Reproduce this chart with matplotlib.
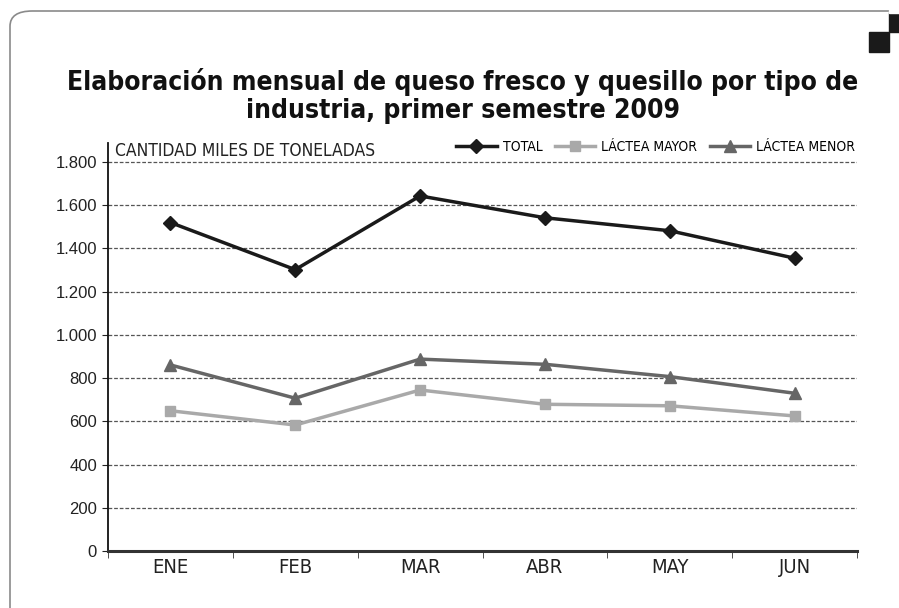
import matplotlib
matplotlib.use("Agg")
import matplotlib.pyplot as plt
from matplotlib.patches import FancyBboxPatch, Rectangle
from matplotlib import font_manager

months = ["ENE", "FEB", "MAR", "ABR", "MAY", "JUN"]
total = [1520, 1302, 1643, 1542, 1482, 1355]
lactea_mayor = [649, 583, 745, 679, 672, 625]
lactea_menor = [861, 707, 888, 864, 807, 730]
y_ticks = [0, 200, 400, 600, 800, 1000, 1200, 1400, 1600, 1800]
y_tick_labels = ["0", "200", "400", "600", "800", "1.000", "1.200", "1.400", "1.600", "1.800"]

title = "Elaboración mensual de queso fresco y quesillo por tipo de\nindustria, primer semestre 2009"
unit_label = "CANTIDAD MILES DE TONELADAS"

# look for a condensed / narrow face, otherwise fall back to plain Liberation Sans
fonts = font_manager.fontManager.ttflist
cond = [f for f in fonts
        if f.stretch in ("condensed", "semi-condensed", "extra-condensed")
        or "Narrow" in f.name or "Condensed" in f.name]
if cond:
    narrow = {"family": cond[0].name, "stretch": cond[0].stretch}
    scale = 1.0
else:
    narrow = {"family": "Liberation Sans", "stretch": "normal"}
    scale = 0.8
regular = "Liberation Sans"

W, H = 899, 608
fig = plt.figure(figsize=(W / 100, H / 100), dpi=100)

# frame (left + top rounded border) and corner squares
frame = FancyBboxPatch((10 / W, -40 / H), 1.2, (H + 40 - 11) / H,
                       boxstyle="round,pad=0,rounding_size=0.025",
                       transform=fig.transFigure, fill=False,
                       edgecolor="#8a8a8a", linewidth=1.2)
fig.patches.append(frame)
fig.patches.append(Rectangle((889 / W, (H - 32) / H), 10 / W, 20 / H,
                             transform=fig.transFigure, color="#1a1a1a"))
fig.patches.append(Rectangle((869 / W, (H - 52) / H), 20 / W, 20 / H,
                             transform=fig.transFigure, color="#1a1a1a"))
fig.patches.append(Rectangle((889 / W, (H - 13) / H), 10 / W, 3 / H,
                             transform=fig.transFigure, color="white"))

fig.text(463 / W, (H - 96) / H, title, ha="center", va="center",
         family=narrow["family"], fontstretch=narrow["stretch"],
         fontweight="bold", fontsize=19 * scale, linespacing=1.05,
         color="#111111")

ax = fig.add_axes([108 / W, 57 / H, 749 / W, 408 / H])
x = range(len(months))
ax.plot(x, total, color="#1a1a1a", lw=2.5, marker="D", ms=7, label="TOTAL")
ax.plot(x, lactea_mayor, color="#a9a9a9", lw=2.5, marker="s", ms=7.5, label="LÁCTEA MAYOR")
ax.plot(x, lactea_menor, color="#666666", lw=2.5, marker="^", ms=8.5, label="LÁCTEA MENOR")

ax.set_xlim(-0.5, len(months) - 0.5)
ax.set_ylim(0, 1888)
ax.set_yticks(y_ticks)
ax.set_yticklabels(y_tick_labels, family=regular, fontsize=12, color="#222222")
ax.set_xticks(list(x))
ax.set_xticklabels(months, family=narrow["family"], fontstretch=narrow["stretch"],
                   fontsize=14.5 * scale, color="#222222")
ax.set_xticks([i - 0.5 for i in range(len(months) + 1)], minor=True)
ax.tick_params(axis="x", which="major", length=0, pad=5)
ax.tick_params(axis="x", which="minor", length=5, direction="out", color="#333333")
ax.tick_params(axis="y", length=4, direction="out", color="#222222", pad=4)

for yv in y_ticks[1:]:
    ax.axhline(yv, color="#555555", lw=0.9, ls=(0, (3, 1.5)), zorder=0)

for side in ["top", "right"]:
    ax.spines[side].set_visible(False)
ax.spines["left"].set_color("#111111")
ax.spines["left"].set_linewidth(1.3)
ax.spines["bottom"].set_color("#333333")
ax.spines["bottom"].set_linewidth(2.2)

fig.text(115 / W, (H - 151) / H, unit_label, ha="left", va="center",
         family=narrow["family"], fontstretch=narrow["stretch"],
         fontsize=12.5 * scale, color="#222222")

fig.legend(loc="center right", bbox_to_anchor=(868 / W, (H - 147) / H),
           ncol=3, frameon=False, handlelength=2.9, handletextpad=0.45,
           columnspacing=0.9,
           prop={"family": narrow["family"], "stretch": narrow["stretch"],
                 "size": 10 * scale})

fig.savefig("out.png", dpi=100)
